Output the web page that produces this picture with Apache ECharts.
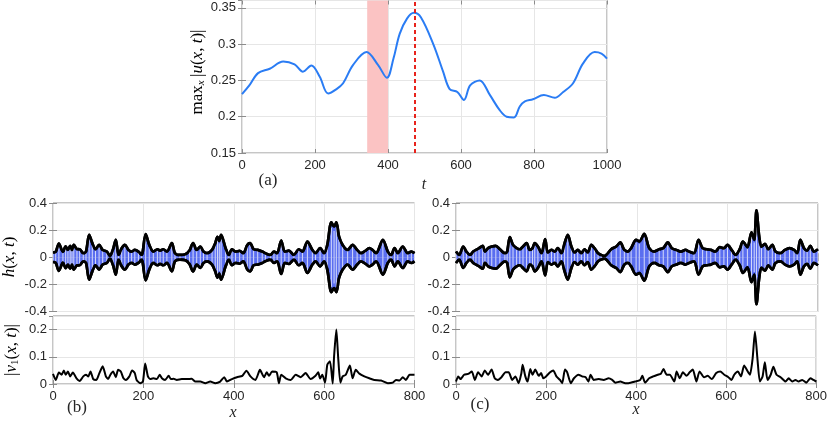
<!DOCTYPE html>
<html><head><meta charset="utf-8">
<script src="https://cdn.jsdelivr.net/npm/echarts@6/dist/echarts.min.js"></script>
<style>html,body{margin:0;padding:0;background:#fff}#c{width:830px;height:425px}</style>
</head><body><div id="c"></div>
<script>
// (a) max_x |u(x,t)| versus t
const aT = [0,20,44,76,113,144,167,190,213,236,259,277,304,341,373,397,415,432,452,471,490,524,551,569,590,608,625,651,679,706,725,745,761,775,797,827,857,880,907,934,966,985,1000];
const aV = [0.231,0.243,0.26,0.266,0.276,0.272,0.262,0.2705,0.255,0.232,0.238,0.246,0.271,0.289,0.271,0.2536,0.28,0.314,0.335,0.343,0.337,0.30,0.262,0.238,0.234,0.223,0.243,0.25,0.23,0.209,0.2,0.199,0.214,0.221,0.224,0.23,0.226,0.234,0.246,0.273,0.289,0.287,0.28];
const shadeRange = [343, 400];
const peakT = 472;

// (b) envelope of h(x,t) and |v1(x,t)|
const bEnvX = [0,6,13,22,28,33,38,42,46,53,59,67,73,80,87,94,102,110,119,126,133,139,145,152,159,167,174,181,189,196,205,213,222,231,237,244,252,263,270,281,293,302,310,318,326,333,341,352,359,364,368,372,382,389,396,404,413,421,430,436,444,453,463,470,481,489,496,505,513,522,533,544,552,563,574,581,591,600,607,616,622,627,633,641,652,663,673,681,691,700,707,715,730,741,748,756,763,774,785,793,800];
const bEnvY = [0.035,0.04,0.1,0.04,0.08,0.054,0.084,0.054,0.091,0.06,0.059,0.03,0.042,0.165,0.104,0.059,0.091,0.054,0.042,0.01,0.06,0.128,0.017,0.067,0.091,0.054,0.042,0.054,0.042,0.017,0.17,0.091,0.042,0.059,0.049,0.059,0.042,0.104,0.03,0.017,0.022,0.049,0.104,0.054,0.079,0.042,0.03,0.054,0.104,0.15,0.12,0.165,0.067,0.017,0.059,0.042,0.047,0.03,0.091,0.104,0.059,0.054,0.042,0.03,0.017,0.042,0.03,0.123,0.042,0.049,0.017,0.059,0.042,0.116,0.054,0.03,0.067,0.03,0.091,0.257,0.227,0.257,0.153,0.091,0.054,0.091,0.054,0.03,0.047,0.067,0.054,0.03,0.128,0.042,0.017,0.067,0.03,0.079,0.03,0.042,0.03];
const bVX = [0,6,13,19,24,28,33,38,44,52,59,67,73,78,83,89,96,102,110,117,122,127,133,139,144,150,156,161,169,175,181,185,193,199,204,210,215,222,230,236,241,248,256,261,267,274,285,296,307,315,326,337,348,359,370,379,385,396,407,419,428,437,448,458,467,473,478,485,495,500,505,515,526,537,548,559,570,581,587,591,596,602,607,613,619,622,627,631,636,641,648,657,663,670,678,689,700,711,726,741,752,759,767,774,781,789,800];
const bVY = [0.037,0.015,0.042,0.034,0.05,0.034,0.046,0.028,0.042,0.021,0.011,0.028,0.034,0.028,0.046,0.018,0.015,0.037,0.065,0.028,0.018,0.034,0.046,0.025,0.052,0.046,0.021,0.015,0.028,0.05,0.04,0.015,0.003,0.009,0.075,0.028,0.018,0.021,0.018,0.034,0.021,0.015,0.03,0.018,0.019,0.015,0.018,0.018,0.019,0.009,0.009,0.003,0.009,0.003,0.009,0.025,0.009,0.018,0.025,0.03,0.049,0.028,0.015,0.052,0.025,0.043,0.03,0.046,0.043,0.003,0.034,0.021,0.015,0.034,0.025,0.04,0.018,0.03,0.043,0.02,0.034,0.005,0.071,0.084,0.002,0.1,0.2,0.1,0.005,0.028,0.034,0.068,0.021,0.052,0.038,0.028,0.021,0.015,0.013,0.003,0.005,0.015,0.013,0.025,0.015,0.034,0.034];

// (c) envelope of h(x,t) and |v1(x,t)|
const cEnvX = [0,7,16,23,31,38,44,51,59,64,71,79,88,97,108,113,119,126,134,141,148,156,163,169,174,181,189,197,203,211,218,225,233,240,247,255,262,269,277,284,291,299,306,314,321,328,343,354,363,372,380,387,398,405,416,427,438,449,458,468,477,487,497,507,515,526,536,545,554,563,573,583,592,600,609,618,627,634,644,653,659,664,670,675,683,690,699,706,717,727,737,747,754,761,769,776,783,791,800];
const cEnvY = [0.042,0.017,0.079,0.042,0.017,0.042,0.054,0.067,0.084,0.042,0.067,0.079,0.084,0.059,0.03,0.042,0.148,0.091,0.067,0.059,0.079,0.104,0.054,0.067,0.104,0.079,0.03,0.133,0.035,0.054,0.042,0.067,0.03,0.104,0.165,0.079,0.035,0.054,0.03,0.059,0.035,0.091,0.067,0.03,0.017,0.01,0.059,0.079,0.109,0.054,0.042,0.067,0.128,0.116,0.173,0.067,0.042,0.059,0.067,0.109,0.067,0.054,0.042,0.054,0.042,0.03,0.128,0.067,0.059,0.054,0.042,0.074,0.067,0.091,0.054,0.017,0.059,0.116,0.074,0.183,0.128,0.346,0.153,0.079,0.099,0.059,0.091,0.042,0.03,0.054,0.067,0.054,0.03,0.128,0.067,0.049,0.084,0.042,0.059];
const cVX = [0,5,10,18,27,35,42,49,57,64,71,79,86,93,101,110,117,125,132,139,145,148,154,159,165,170,176,184,189,194,200,209,216,223,231,236,242,247,255,262,272,280,288,294,299,306,317,328,339,347,354,365,376,383,398,409,414,420,429,438,448,455,461,468,475,485,490,497,504,512,519,526,534,541,551,559,568,578,587,596,605,612,618,626,633,640,648,653,659,664,670,675,681,686,692,699,705,712,721,732,739,747,754,761,769,778,787,794,800];
const cVY = [0.009,0.028,0.018,0.034,0.037,0.046,0.015,0.043,0.028,0.05,0.034,0.053,0.021,0.015,0.025,0.043,0.043,0.015,0.028,0.003,0.038,0.071,0.028,0.009,0.055,0.034,0.053,0.03,0.04,0.021,0.028,0.043,0.05,0.028,0.015,0.003,0.053,0.043,0.003,0.021,0.034,0.028,0.025,0.009,0.034,0.015,0.018,0.015,0.021,0.015,0.005,0.009,0.003,0.003,0.009,0.015,0.03,0.005,0.021,0.028,0.034,0.038,0.055,0.034,0.034,0.009,0.046,0.021,0.043,0.03,0.043,0.053,0.009,0.046,0.025,0.03,0.018,0.04,0.046,0.034,0.025,0.015,0.034,0.046,0.028,0.068,0.046,0.034,0.096,0.193,0.084,0.009,0.028,0.08,0.015,0.034,0.063,0.034,0.025,0.009,0.021,0.009,0.015,0.009,0.015,0.005,0.021,0.015,0.009];

// tick values
const aXTicks = {min:0, max:1000, interval:200};
const aYTicks = {min:0.15, max:0.36, interval:0.05};
const hXTicks = {min:0, max:800, interval:200};
const hYTicks = {min:-0.4, max:0.4, interval:0.2};
const vYTicks = {min:0, max:0.25, interval:0.1};

const pairs = (xs, ys) => xs.map((x, i) => [x, ys[i]]);
const negPairs = (xs, ys) => xs.map((x, i) => [x, -ys[i]]);

const SANS = 'Liberation Sans, Arial, sans-serif';
const SERIF = 'Liberation Serif, Times New Roman, serif';
const BOX = '#8c8c8c';
const GRIDC = '#e6e6e6';
const LBL = '#262626';

const grids = [
  {left:242, top:0.5, width:365, height:152.5},
  {left:53, top:203, width:361.5, height:108.5},
  {left:53, top:316, width:361.5, height:68},
  {left:456, top:203, width:362, height:108.5},
  {left:456, top:316, width:362, height:68}
].map(g => Object.assign(g, {show:true, borderColor:BOX, borderWidth:1, backgroundColor:'rgba(0,0,0,0)'}));

const spec = [
  {x:aXTicks, y:aYTicks, xl:true, fs:13},
  {x:hXTicks, y:hYTicks, xl:false, fs:13},
  {x:hXTicks, y:vYTicks, xl:true, fs:13},
  {x:hXTicks, y:hYTicks, xl:false, fs:13},
  {x:hXTicks, y:vYTicks, xl:true, fs:13}
];
const fmt = v => String(Math.round(v * 100) / 100);
const xAxes = [], yAxes = [];
spec.forEach((s, gi) => {
  xAxes.push({type:'value', gridIndex:gi, min:s.x.min, max:s.x.max, interval:s.x.interval, position:'bottom',
    axisLine:{show:false}, axisTick:{show:true, inside:true, length:4, lineStyle:{color:BOX}},
    axisLabel:{show:s.xl, color:LBL, fontFamily:SANS, fontSize:s.fs, margin:6, showMaxLabel:true, formatter:fmt},
    splitLine:{show:true, lineStyle:{color:GRIDC, width:1}}});
  xAxes.push({type:'value', gridIndex:gi, min:s.x.min, max:s.x.max, interval:s.x.interval, position:'top',
    axisLine:{show:false}, axisTick:{show:true, inside:true, length:4, lineStyle:{color:BOX}},
    axisLabel:{show:false}, splitLine:{show:false}});
  yAxes.push({type:'value', gridIndex:gi, min:s.y.min, max:s.y.max, interval:s.y.interval, position:'left',
    axisLine:{show:false}, axisTick:{show:true, inside:true, length:4, lineStyle:{color:BOX}},
    axisLabel:{show:true, color:LBL, fontFamily:SANS, fontSize:s.fs, margin:6, showMaxLabel:gi===1||gi===3, formatter:fmt},
    splitLine:{show:true, lineStyle:{color:GRIDC, width:1}}});
  yAxes.push({type:'value', gridIndex:gi, min:s.y.min, max:s.y.max, interval:s.y.interval, position:'right',
    axisLine:{show:false}, axisTick:{show:true, inside:true, length:4, lineStyle:{color:BOX}},
    axisLabel:{show:false}, splitLine:{show:false}});
});

const FILL = '#5a6ef0';
function envSeries(gi, xs, ys) {
  const base = {type:'line', xAxisIndex:gi*2, yAxisIndex:gi*2, smooth:0.3, symbol:'none', silent:true,
    lineStyle:{color:'#000', width:2.7}, areaStyle:{color:FILL, opacity:1, origin:0}, z:3};
  const stripe = {type:'bar', xAxisIndex:gi*2, yAxisIndex:gi*2, barWidth:1, silent:true,
    barGap:'-100%', itemStyle:{color:'rgba(255,255,255,0.75)'}, z:4};
  return [
    Object.assign({}, base, {data:pairs(xs, ys)}),
    Object.assign({}, base, {data:negPairs(xs, ys)}),
    Object.assign({}, stripe, {data:pairs(xs, ys.map(v => v * 0.85))}),
    Object.assign({}, stripe, {data:negPairs(xs, ys.map(v => v * 0.85))}),
    Object.assign({}, base, {areaStyle:null, z:5, data:pairs(xs, ys)}),
    Object.assign({}, base, {areaStyle:null, z:5, data:negPairs(xs, ys)})
  ];
}
function vSeries(gi, xs, ys) {
  return {type:'line', xAxisIndex:gi*2, yAxisIndex:gi*2, smooth:0.2, symbol:'none', silent:true,
    lineStyle:{color:'#000', width:2}, data:pairs(xs, ys), z:3};
}

const series = [
  {type:'line', xAxisIndex:0, yAxisIndex:0, smooth:0.35, symbol:'none', silent:true,
   lineStyle:{color:'#2a7cf4', width:2}, data:pairs(aT, aV), z:4,
   markArea:{silent:true, itemStyle:{color:'#fbc3c3'}, data:[[{xAxis:shadeRange[0]}, {xAxis:shadeRange[1]}]]},
   markLine:{silent:true, symbol:['none','none'], label:{show:false},
     lineStyle:{color:'#e8231c', width:2, type:[4,3]}, data:[{xAxis:peakT}]}},
  ...envSeries(1, bEnvX, bEnvY),
  vSeries(2, bVX, bVY),
  ...envSeries(3, cEnvX, cEnvY),
  vSeries(4, cVX, cVY)
];

const it = {fontFamily:SERIF, fontStyle:'italic', fontSize:16, fill:'#262626'};
const rm = {fontFamily:SERIF, fontSize:17, fill:'#262626'};
const FS = 17;
const richBase = {
  a:{fontFamily:SERIF, fontSize:FS, color:'#262626'},
  i:{fontFamily:SERIF, fontStyle:'italic', fontSize:FS, color:'#262626'},
  s:{fontFamily:SERIF, fontStyle:'italic', fontSize:11, color:'#262626', padding:[7,0,0,0]},
  n:{fontFamily:SERIF, fontSize:11, color:'#262626', padding:[7,0,0,0]}
};
const graphic = [
  {type:'text', x:198, y:72, rotation:Math.PI/2, style:{text:'{a|max}{s|x} {a||}{i|u}{a|(}{i|x}{a|, }{i|t}{a|)|}', rich:richBase, align:'center', verticalAlign:'middle'}},
  {type:'text', x:268, y:181, style:Object.assign({text:'(a)', align:'center', verticalAlign:'middle'}, rm)},
  {type:'text', x:424, y:185, style:Object.assign({text:'t', align:'center', verticalAlign:'middle'}, it)},
  {type:'text', x:10, y:257, rotation:Math.PI/2, style:{text:'{i|h}{a|(}{i|x}{a|, }{i|t}{a|)}', rich:richBase, align:'center', verticalAlign:'middle'}},
  {type:'text', x:12, y:350, rotation:Math.PI/2, style:{text:'{a||}{i|v}{n|1}{a|(}{i|x}{a|, }{i|t}{a|)|}', rich:richBase, align:'center', verticalAlign:'middle'}},
  {type:'text', x:77, y:408, style:Object.assign({text:'(b)', align:'center', verticalAlign:'middle'}, rm)},
  {type:'text', x:233, y:413, style:Object.assign({text:'x', align:'center', verticalAlign:'middle'}, it)},
  {type:'text', x:480, y:405, style:Object.assign({text:'(c)', align:'center', verticalAlign:'middle'}, rm)},
  {type:'text', x:636, y:410, style:Object.assign({text:'x', align:'center', verticalAlign:'middle'}, it)}
];

const chart = echarts.init(document.getElementById('c'), null, {renderer:'canvas'});
chart.setOption({animation:false, backgroundColor:'#fff', grid:grids, xAxis:xAxes, yAxis:yAxes, series, graphic});
</script>
</body></html>
